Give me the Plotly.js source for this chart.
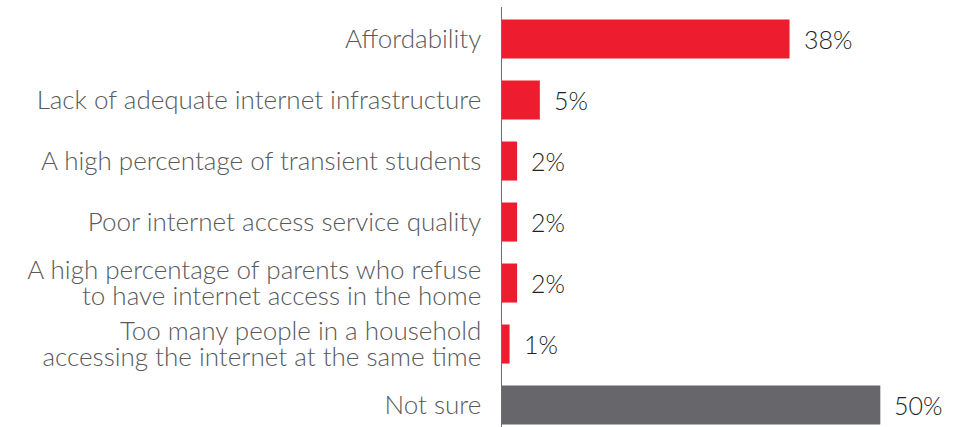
<!DOCTYPE html>
<html><head><meta charset="utf-8">
<script src="https://cdn.plot.ly/plotly-3.0.1.min.js"></script>
<style>body{margin:0;background:#fff}#c{width:956px;height:427px}</style>
</head><body><div id="c"></div>
<script>
const categories = [
  "Affordability",
  "Lack of adequate internet infrastructure",
  "A high percentage of transient students",
  "Poor internet access service quality",
  "A high percentage of parents who refuse<br>to have internet access in the home",
  "Too many people in a household<br>accessing the internet at the same time",
  "Not sure"
];
const values = [38, 5, 2, 2, 2, 1, 50];
const barColors = ["#ed1c2e","#ed1c2e","#ed1c2e","#ed1c2e","#ed1c2e","#ed1c2e","#67666b"];

const FONT = 'Lato, sans-serif';
const annotations = categories.map((c, i) => ({
  x: values[i], y: c, xref: 'x', yref: 'y',
  text: values[i] + '%', showarrow: false,
  xanchor: 'left', yanchor: 'middle', xshift: 12, yshift: 0,
  font: {family: FONT, size: 25, weight: 300, color: '#231f20'}
}));

Plotly.newPlot('c', [{
  type: 'bar', orientation: 'h',
  x: values, y: categories,
  marker: {color: barColors},
  width: 0.64,
  hoverinfo: 'none'
}], {
  width: 956, height: 427,
  margin: {l: 502, r: 0, t: 7, b: 0},
  paper_bgcolor: '#fff', plot_bgcolor: '#fff',
  showlegend: false,
  xaxis: {range: [0, 60], visible: false, fixedrange: true},
  yaxis: {
    type: 'category', range: [6.36, -0.525],
    showline: true, linecolor: '#6d6e71', linewidth: 1.5,
    showgrid: false, zeroline: false, ticks: '',
    ticklabelstandoff: 14,
    tickfont: {family: FONT, size: 26, weight: 300, color: '#58595b'}
  },
  annotations: annotations
}, {staticPlot: true}).then(function (gd) {
  // tighten line spacing of two-line tick labels, keeping them centred
  gd.querySelectorAll('.ytick text').forEach(function (t) {
    const lines = t.querySelectorAll('tspan.line');
    if (lines.length === 2) {
      lines[0].setAttribute('dy', '0.16em');
      lines[1].setAttribute('dy', '1.14em');
    }
  });
});
</script></body></html>
